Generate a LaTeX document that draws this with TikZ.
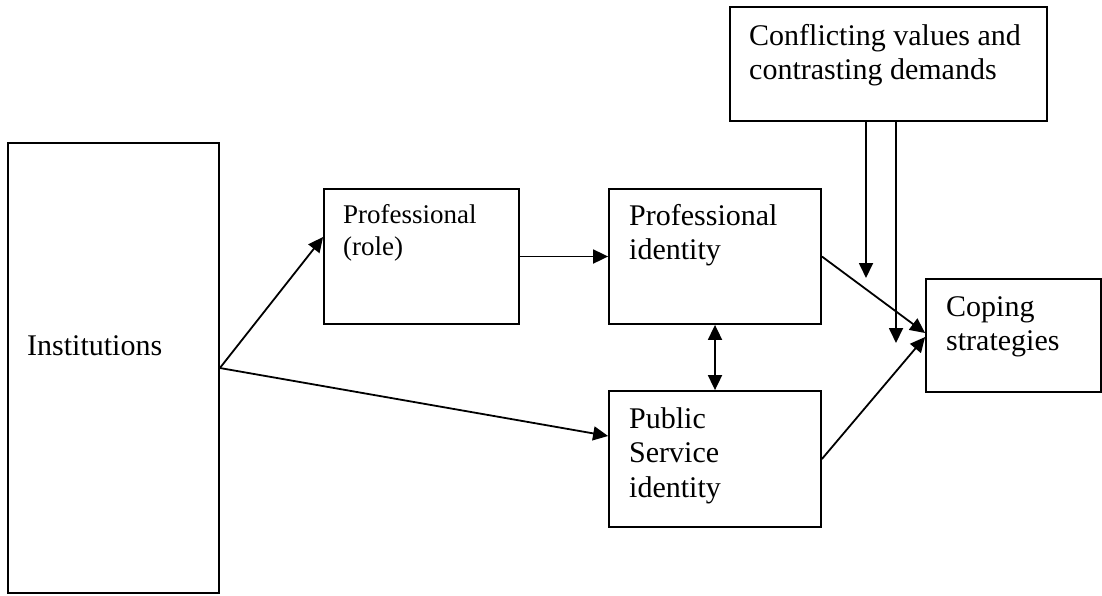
\documentclass[tikz,border=0pt]{standalone}
\usepackage{fontspec}
\setmainfont{Liberation Serif}
\usetikzlibrary{arrows.meta}
\begin{document}
\begin{tikzpicture}[x=1pt,y=-1pt,
  box/.style={draw, line width=1.8pt, inner sep=0pt, rectangle},
  lbl/.style={anchor=north west, inner sep=0pt, align=left, font=\fontsize{30}{34.5}\selectfont},
  smalltext/.style={font=\fontsize{27}{32}\selectfont},
  tip/.tip={Triangle[length=15pt,width=14pt]},
  link/.style={line width=1.8pt, -tip},
]
\useasboundingbox (0,0) rectangle (1102,595);

% boxes
\node[box, minimum width=211pt, minimum height=450pt] (inst) at (113.5,368) {};
\node[box, minimum width=195pt, minimum height=135pt] (role) at (421.5,256.5) {};
\node[box, minimum width=212pt, minimum height=135pt] (pid)  at (715,256.5) {};
\node[box, minimum width=212pt, minimum height=136pt] (psid) at (715,459) {};
\node[box, minimum width=175pt, minimum height=113pt] (cope) at (1013.5,335.5) {};
\node[box, minimum width=317pt, minimum height=114pt] (conf) at (888.5,64) {};

% box texts, set from the top left corner
\node[lbl] (instT) at (27,330.85) {\strut Institutions};
\node[lbl, smalltext] (roleT) at (343,200.6) {\strut Professional\\\strut (role)};
\node[lbl] (pidT)  at (629,200.85) {\strut Professional\\\strut identity};
\node[lbl] (psidT) at (629,403.85) {\strut Public\\\strut Service\\\strut identity};
\node[lbl] (copeT) at (946,291.85) {\strut Coping\\\strut strategies};
\node[lbl] (confT) at (749,20.85) {\strut Conflicting values and\\\strut contrasting demands};

% connectors
\draw[link] (inst.east) -- ([yshift=19.5pt]role.west);
\draw[link] (inst.east) -- ([yshift=23pt]psid.west);
\draw[link] (role.east) -- (pid.west);
\draw[line width=1.8pt, tip-tip] (pid.south) -- (psid.north);
\draw[link] (pid.east) -- ([yshift=2.5pt]cope.west);
\draw[link] (psid.east) -- ([yshift=-1.5pt]cope.west);
\coordinate (c1) at (866,278);
\coordinate (c2) at (896,343);
\draw[link] ([xshift=-22.5pt]conf.south) -- (c1);
\draw[link] ([xshift=7.5pt]conf.south) -- (c2);
\end{tikzpicture}
\end{document}
